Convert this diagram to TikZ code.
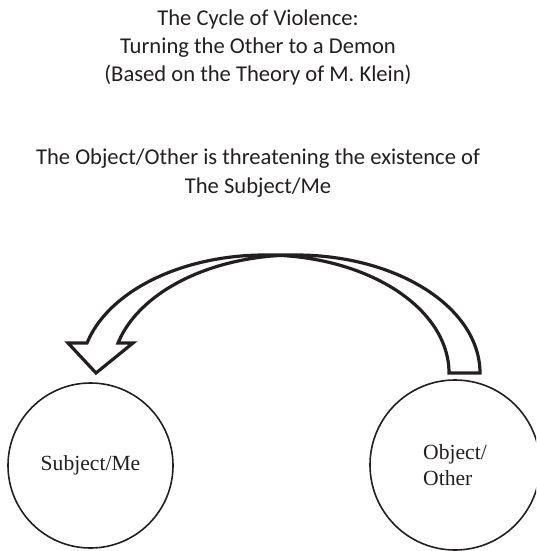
\documentclass[tikz,border=0pt]{standalone}
\usepackage{fontspec}
\setmainfont{Liberation Serif}
\newfontfamily\calibrifont{Carlito}
\definecolor{ink}{HTML}{231F20}
\begin{document}
\begin{tikzpicture}[x=0.5pt,y=-0.5pt,
  heading/.style={anchor=base, inner sep=0pt, text=ink,
    font=\calibrifont\fontsize{11.3pt}{13.75pt}\selectfont},
  ring/.style={circle, draw=ink, line width=0.8pt, inner sep=0pt, text=ink,
    align=left, font=\fontsize{10.8pt}{13pt}\selectfont},
  blockarrow/.style={draw=ink, fill=white, line width=1.6pt, line join=miter, miter limit=10}]
\useasboundingbox (0,0) rectangle (536,551);
\clip (0,0) rectangle (536,551);
% titles
\node[heading] (t1) at (258,26) {The Cycle of Violence:};
\node[heading] (t2) at (258,54) {Turning the Other to a Demon};
\node[heading] (t3) at (258,81.5) {(Based on the Theory of M. Klein)};
\node[heading] (s1) at (258,164) {The Object/Other is threatening the existence of};
\node[heading] (s2) at (258,193) {The Subject/Me};
% circles
\node[ring, minimum size=82.5pt] (me) at (90.5,465.5) {Subject/Me};
\node[ring, minimum size=85pt] (other) at (455,465) {Object/\\Other};
% curved block arrow (two half-ellipses, radii 184 x 118, centred on the base line y=373)
\draw[blockarrow]
  plot[domain=0:-90, samples=90] ({296+184*cos(\x)},{373+118*sin(\x)})
  -- plot[domain=-90:-165.27, samples=90] ({265+184*cos(\x)},{373+118*sin(\x)})
  -- (68,343) -- (96,373) -- (133,343)
  -- plot[domain=-165.27:-94.83, samples=90] ({296+184*cos(\x)},{373+118*sin(\x)})
  -- plot[domain=-85.17:0, samples=90] ({265+184*cos(\x)},{373+118*sin(\x)})
  -- cycle;
\end{tikzpicture}
\end{document}
